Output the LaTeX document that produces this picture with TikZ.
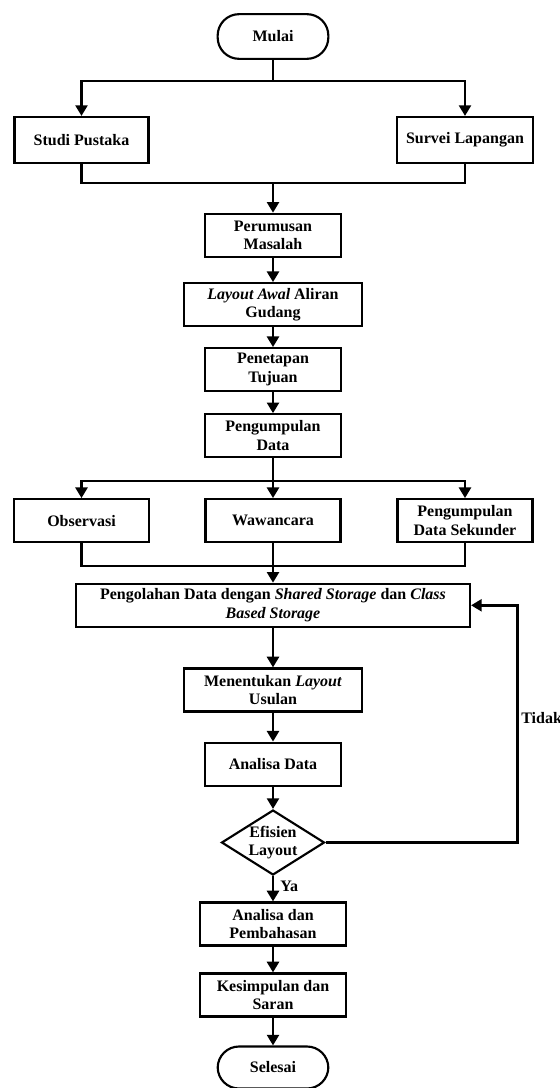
\documentclass[tikz,border=0pt]{standalone}
\usepackage{fontspec}
\setmainfont{Liberation Serif}
\usetikzlibrary{arrows.meta,shapes.geometric}
\begin{document}
\begin{tikzpicture}[x=0.75pt,y=-0.75pt,
  font=\fontsize{12}{14}\selectfont\bfseries,
  box/.style={draw,line width=1.6pt,rectangle,align=center,inner sep=1pt,minimum height=32.3pt},
  term/.style={draw,line width=1.6pt,rectangle,rounded corners=16pt,minimum width=83pt,minimum height=33.5pt},
  dec/.style={draw,line width=1.6pt,diamond,aspect=1.58,inner sep=0pt,minimum width=77.25pt,minimum height=48.75pt,align=center},
  conn/.style={line width=1.9pt},
  arr/.style={conn,-{Triangle[length=8pt,width=9pt]}},
  lbl/.style={inner sep=0pt,anchor=west}
]
\useasboundingbox (0,0) rectangle (560,1088);
\fill[white] (0,0) rectangle (560,1088);

\node[term] (mulai) at (273,36.5) {Mulai};
\node[box,minimum width=100.5pt,minimum height=34.5pt] (studi) at (81.5,140) {Studi Pustaka};
\node[box,minimum width=102pt,minimum height=34.5pt] (survei) at (465,140) {Survei Lapangan};
\node[box,minimum width=101.5pt] (rumus) at (273,235.3) {Perumusan\\Masalah};
\node[box,minimum width=133pt] (awal) at (273,304.7) {\textit{Layout Awal} Aliran\\Gudang};
\node[box,minimum width=101.5pt] (tujuan) at (273,369.7) {Penetapan\\Tujuan};
\node[box,minimum width=101.5pt] (kumpul) at (273,435.8) {Pengumpulan\\Data};
\node[box,minimum width=101.25pt] (obs) at (81.5,520.7) {Observasi};
\node[box,minimum width=101.25pt] (waw) at (273,520.7) {Wawancara};
\node[box,minimum width=101.25pt] (sek) at (465,520.7) {Pengumpulan\\Data Sekunder};
\node[box,minimum width=295.5pt] (olah) at (273,605.3) {Pengolahan Data dengan \textit{Shared Storage} dan \textit{Class}\\\textit{Based Storage}};
\node[box,minimum width=133.3pt] (usul) at (273,690) {Menentukan \textit{Layout}\\Usulan};
\node[box,minimum width=101.8pt] (analisa) at (273,764.2) {Analisa Data};
\node[dec] (efisien) at (273,842.5) {Efisien\\Layout};
\node[box,minimum width=109.3pt] (bahas) at (273,924) {Analisa dan\\Pembahasan};
\node[box,minimum width=109.3pt] (simpul) at (273,995) {Kesimpulan dan\\Saran};
\node[term,minimum height=31.5pt] (selesai) at (273,1067.5) {Selesai};

\node[lbl] (tidak) at (521,718) {Tidak};
\node[lbl] (ya) at (280,886) {Ya};

\coordinate (j1) at (273,81);
\coordinate (m1) at (273,183);
\coordinate (j2) at (273,481);
\coordinate (m2) at (273,566);
\coordinate (fb) at (517.7,842.5);

\draw[conn] (mulai) -- (j1);
\draw[arr] (j1) -| (studi.north);
\draw[arr] (j1) -| (survei.north);
\draw[conn] (studi.south) |- (m1);
\draw[conn] (survei.south) |- (m1);
\draw[arr] (m1) -- (rumus);
\draw[arr] (rumus) -- (awal);
\draw[arr] (awal) -- (tujuan);
\draw[arr] (tujuan) -- (kumpul);
\draw[conn] (kumpul) -- (j2);
\draw[arr] (j2) -| (obs.north);
\draw[arr] (j2) -- (waw);
\draw[arr] (j2) -| (sek.north);
\draw[conn] (obs.south) |- (m2);
\draw[conn] (sek.south) |- (m2);
\draw[conn] (waw) -- (m2);
\draw[arr] (m2) -- (olah);
\draw[arr] (olah) -- (usul);
\draw[arr] (usul) -- (analisa);
\draw[arr] (analisa) -- (efisien);
\draw[arr] (efisien.east) -- (fb) |- (olah.east);
\draw[arr] (efisien) -- (bahas);
\draw[arr] (bahas) -- (simpul);
\draw[arr] (simpul) -- (selesai);
\end{tikzpicture}
\end{document}
